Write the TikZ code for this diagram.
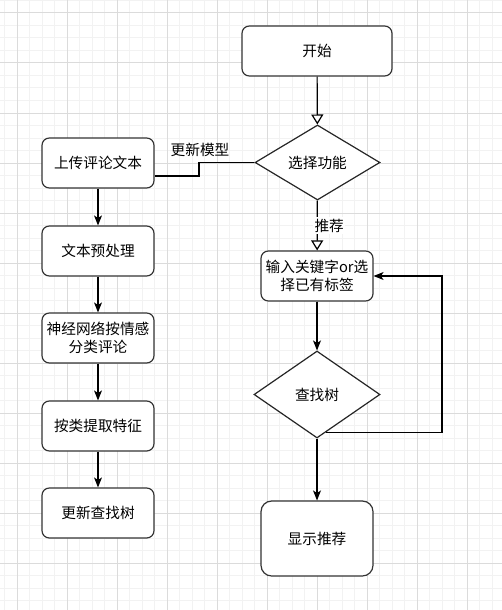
\documentclass[tikz,border=0pt]{standalone}
\usepackage{fontspec}
\newfontfamily\cjk{Noto Sans CJK SC}
\usetikzlibrary{shapes.geometric,arrows.meta,calc}

\begin{document}
\begin{tikzpicture}[x=0.75pt,y=-0.75pt,
	every node/.style={font=\cjk\fontsize{11}{13.5}\selectfont},
	stepbox/.style={draw=black!80, line width=0.9pt, fill=white, rounded corners=5.5pt,
		minimum width=84pt, minimum height=37.5pt, inner sep=1pt, align=center},
	choice/.style={draw=black!85, line width=0.9pt, fill=white, diamond, inner sep=0pt},
	flow/.style={line width=0.9pt, -{Stealth[length=7.5pt, width=6pt, inset=2pt]}},
	openflow/.style={line width=0.9pt, -{Triangle[open, fill=white, length=7.5pt, width=9pt]}}]
	 \useasboundingbox (0,0) rectangle (502,610);
	 \fill[white] (0,0) rectangle (502,610);
	 % grid
	 \foreach \gx in {4.5,17,...,502} \draw[black!5, line width=0.75pt] (\gx,0) -- (\gx,610);
	 \foreach \gy in {0.5,13,...,610} \draw[black!5, line width=0.75pt] (0,\gy) -- (502,\gy);
	 \foreach \gx in {17,67,...,502} \draw[black!14, line width=0.75pt] (\gx,0) -- (\gx,610);
	 \foreach \gy in {13,63,...,610} \draw[black!14, line width=0.75pt] (0,\gy) -- (502,\gy);

	 % right column
	 \node[stepbox, minimum width=112.5pt] (start) at (317,51) {开始};
	 \node[choice, minimum width=93.75pt, minimum height=56.25pt] (mode) at (317.5,162.5) {选择功能};
	 \node[stepbox] (input) at (317,276) {输入关键字or选\\择已有标签};
	 \node[choice, minimum width=94.5pt, minimum height=65.25pt] (search) at (317,394.5) {查找树};
	 \node[stepbox, minimum height=56.25pt, rounded corners=8pt] (show) at (317,538.5) {显示推荐};

	 % left column
	 \node[stepbox] (upload) at (98,163) {上传评论文本};
	 \node[stepbox] (prep) at (98,251) {文本预处理};
	 \node[stepbox] (classify) at (98,338) {神经网络按情感\\分类评论};
	 \node[stepbox] (extract) at (98,426) {按类提取特征};
	 \node[stepbox] (update) at (98,513) {更新查找树};

	 \draw[openflow] (start) -- (mode);
	 \draw[openflow] (mode) -- node[fill=white, inner sep=1pt, xshift=9pt] {推荐} (input);
	 \draw[flow] (input) -- (search);
	 \draw[flow] (search) -- (show);

	 % loop back
	 \coordinate (loopout) at ($(search.south)!0.14!(search.east)$);
	 \coordinate (loopx) at (442,276);
	 \draw[flow] (loopout) -- (loopout -| loopx) |- (input.east);

	 \foreach \a/\b in {upload/prep, prep/classify, classify/extract, extract/update}
	 	\draw[flow] (\a) -- (\b);

	 % model update
	 \coordinate (modelbend) at (199,176);
	 \draw[line width=0.9pt] (mode.west) -| (modelbend) -- (modelbend -| upload.east);
	 \node (modellabel) at (200,150) {更新模型};
\end{tikzpicture}
\end{document}
